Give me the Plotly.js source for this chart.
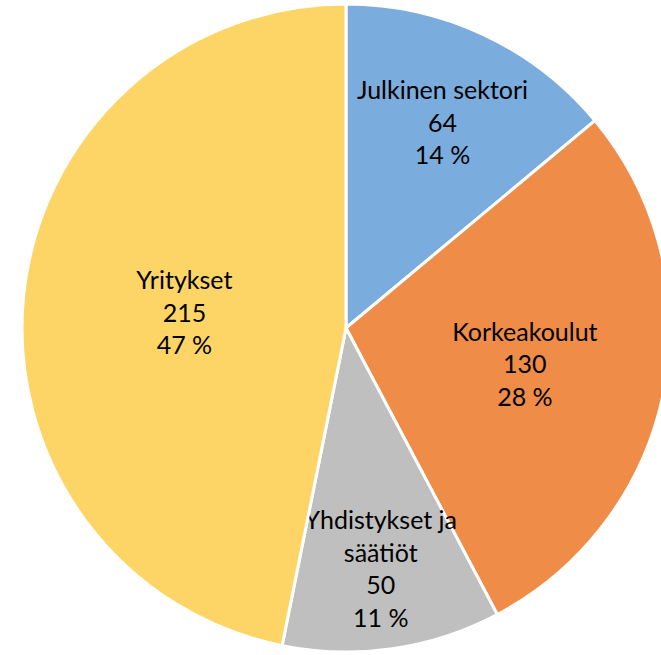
<!DOCTYPE html>
<html><head><meta charset="utf-8">
<script src="https://cdn.plot.ly/plotly-3.0.1.min.js"></script>
<style>html,body{margin:0;padding:0;overflow:hidden;background:#fff;width:661px;height:655px}</style>
</head><body><div id="chart"></div>
<script>
const labels = ["Julkinen sektori", "Korkeakoulut", "Yhdistykset ja säätiöt", "Yritykset"];
const labelLines = ["Julkinen sektori", "Korkeakoulut", "Yhdistykset ja<br>säätiöt", "Yritykset"];
const values = [64, 130, 50, 215];
const colors = ["#7AADDE", "#EF8C48", "#BFBFBF", "#FDD567"];
const total = values.reduce((a, b) => a + b, 0);
const texts = values.map((v, i) => labelLines[i] + "<br>" + v + "<br>" + Math.round(v / total * 100) + " %");

Plotly.newPlot("chart", [{
  type: "pie",
  labels: labels,
  values: values,
  text: texts,
  textinfo: "text",
  textposition: "inside",
  insidetextorientation: "horizontal",
  sort: false,
  direction: "clockwise",
  rotation: 0,
  marker: {colors: colors, line: {color: "#FFFFFF", width: 3}},
  textfont: {family: "Lato, 'Open Sans', sans-serif", size: 25, color: "#000000"},
  hoverinfo: "none"
}], {
  width: 692, height: 656,
  margin: {l: 22, r: 22, t: 4, b: 4},
  showlegend: false,
  paper_bgcolor: "#FFFFFF",
  uniformtext: {mode: "show", minsize: 25}
}, {staticPlot: true});
</script></body></html>
